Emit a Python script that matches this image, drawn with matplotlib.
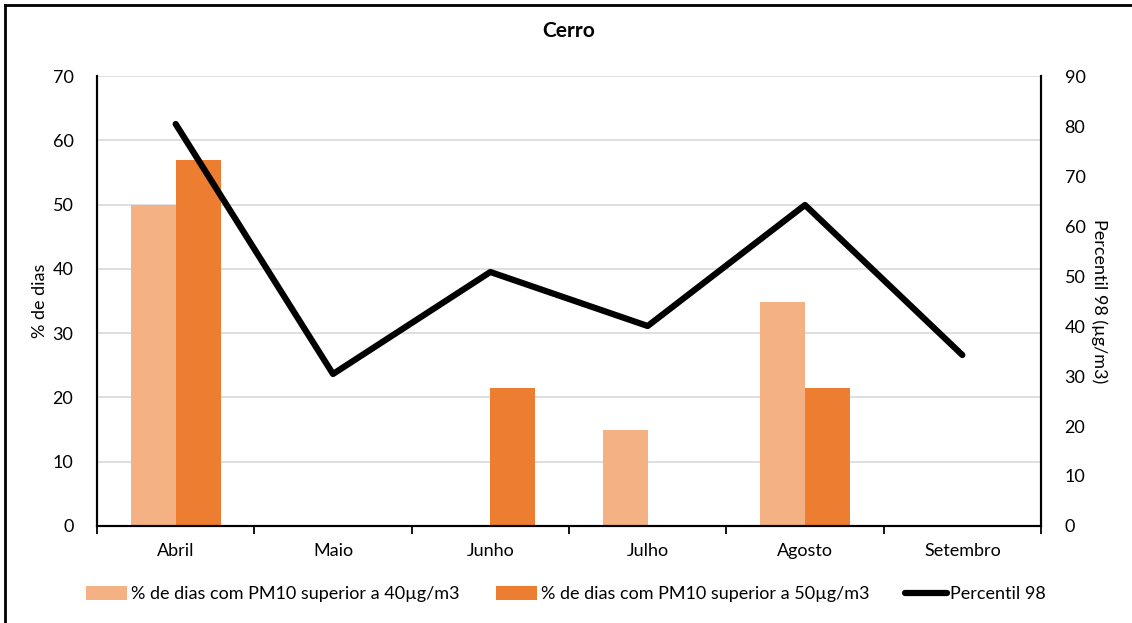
import matplotlib.pyplot as plt
import numpy as np

plt.rcParams['font.family'] = ['Lato', 'DejaVu Sans']

meses = ['Abril', 'Maio', 'Junho', 'Julho', 'Agosto', 'Setembro']
dias_40 = [50, 0, 0, 15, 34.8, 0]
dias_50 = [57, 0, 21.4, 0, 21.4, 0]
percentil_98 = [80.4, 30.4, 50.8, 40, 64.2, 34.2]

cor_40 = '#F4B183'
cor_50 = '#ED7D31'

fig = plt.figure(figsize=(11.32, 6.23), dpi=100)
ax = fig.add_axes([97/1132, 1 - 526/623, 944/1132, 450/623])
ax2 = ax.twinx()

x = np.arange(len(meses))
w = 0.286
b1 = ax.bar(x - w/2, dias_40, w, color=cor_40, zorder=2,
            label='% de dias com PM10 superior a 40µg/m3')
b2 = ax.bar(x + w/2, dias_50, w, color=cor_50, zorder=2,
            label='% de dias com PM10 superior a 50µg/m3')
l1, = ax2.plot(x, percentil_98, color='black', linewidth=4.5,
               solid_capstyle='round', label='Percentil 98')

ax.set_xlim(-0.5, len(meses) - 0.5)
ax.set_ylim(0, 70)
ax.set_yticks(range(0, 71, 10))
ax2.set_ylim(0, 90)
ax2.set_yticks(range(0, 91, 10))

ax.grid(axis='y', color='#d9d9d9', linewidth=1.2, zorder=0)
ax.set_axisbelow(True)

ax.set_xticks(x)
ax.set_xticklabels(meses)
ax.set_xticks(np.arange(-0.5, len(meses), 1), minor=True)
ax.tick_params(axis='x', which='major', length=0, pad=12, labelsize=13)
ax.tick_params(axis='x', which='minor', length=6, width=1.3, direction='out')
ax.tick_params(axis='y', length=0, pad=17, labelsize=13)
ax2.tick_params(axis='y', length=0, pad=17, labelsize=13)

for a in (ax, ax2):
    a.spines['top'].set_visible(False)
    for s in ('left', 'right', 'bottom'):
        a.spines[s].set_linewidth(1.5)

ax.set_ylabel('% de dias', fontsize=13, labelpad=3)
ax2.set_ylabel('Percentil 98 (µg/m3)', fontsize=13, rotation=270, labelpad=16)
ax.set_title('Cerro', fontsize=15, fontweight='bold', pad=28)

fig.legend(handles=[b1, b2, l1], loc='center', bbox_to_anchor=(0.5, 1 - 594/623),
           ncol=3, frameon=False, fontsize=13, handlelength=2.3,
           handleheight=0.8, handletextpad=0.2, columnspacing=2.0)

# moldura do gráfico (só topo e esquerda aparecem)
fig.add_artist(plt.Line2D([5/1132, 5/1132], [0, 1 - 5/623], color='black',
                          linewidth=2, transform=fig.transFigure))
fig.add_artist(plt.Line2D([5/1132, 1], [1 - 5/623, 1 - 5/623], color='black',
                          linewidth=2, transform=fig.transFigure))

plt.savefig('out.png', dpi=100)
